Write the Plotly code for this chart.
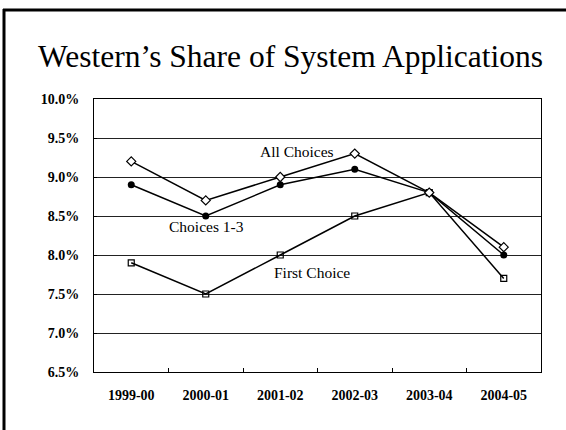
import plotly.graph_objects as go

years = ["1999-00", "2000-01", "2001-02", "2002-03", "2003-04", "2004-05"]
all_choices = [9.2, 8.7, 9.0, 9.3, 8.8, 8.1]
choices_1_3 = [8.9, 8.5, 8.9, 9.1, 8.8, 8.0]
first_choice = [7.9, 7.5, 8.0, 8.5, 8.8, 7.7]
y_ticks = [6.5, 7.0, 7.5, 8.0, 8.5, 9.0, 9.5, 10.0]
y_tick_labels = ["6.5%", "7.0%", "7.5%", "8.0%", "8.5%", "9.0%", "9.5%", "10.0%"]

FONT = "Liberation Serif"

fig = go.Figure()
fig.add_trace(go.Scatter(
    x=years, y=first_choice, mode="lines+markers", name="First Choice",
    line=dict(color="black", width=1.5),
    marker=dict(symbol="square-open", size=6, color="black", line=dict(width=1.2)),
))
fig.add_trace(go.Scatter(
    x=years, y=choices_1_3, mode="lines+markers", name="Choices 1-3",
    line=dict(color="black", width=1.5),
    marker=dict(symbol="circle", size=7, color="black"),
))
fig.add_trace(go.Scatter(
    x=years, y=all_choices, mode="lines+markers", name="All Choices",
    line=dict(color="black", width=1.5),
    marker=dict(symbol="diamond", size=7, color="white", line=dict(color="black", width=1.2)),
))

fig.add_annotation(x=2.22, y=9.33, xref="x", yref="y", text="All Choices",
                   showarrow=False, font=dict(family=FONT, size=15.5, color="black"))
fig.add_annotation(x=1.01, y=8.36, xref="x", yref="y", text="Choices 1-3",
                   showarrow=False, font=dict(family=FONT, size=15.5, color="black"))
fig.add_annotation(x=2.43, y=7.77, xref="x", yref="y", text="First Choice",
                   showarrow=False, font=dict(family=FONT, size=15.5, color="black"))

# outer frame (top and left edges)
px_w, px_h = 447.0, 273.0
fig.add_shape(type="line", xref="paper", yref="paper",
              x0=-91 / px_w, x1=(566 - 94) / px_w, y0=1 + 89 / px_h, y1=1 + 89 / px_h,
              line=dict(color="black", width=3))
fig.add_shape(type="line", xref="paper", yref="paper",
              x0=-90 / px_w, x1=-90 / px_w, y0=1 + 90 / px_h, y1=-60 / px_h,
              line=dict(color="black", width=3))

fig.update_layout(
    width=566, height=430,
    margin=dict(l=94, r=25, t=99, b=58),
    paper_bgcolor="white", plot_bgcolor="white",
    showlegend=False,
    title=dict(text="Western\u2019s Share of System Applications",
               x=290.5 / 566, xanchor="center", xref="container",
               y=1 - 56 / 430, yanchor="middle", yref="container",
               font=dict(family=FONT, size=31.5, color="black")),
    xaxis=dict(
        type="category", range=[-0.5, 5.5],
        tickson="boundaries", ticks="inside", ticklen=4, tickcolor="black",
        showline=True, linecolor="black", linewidth=1, mirror=True,
        showgrid=False, zeroline=False,
        tickfont=dict(family=FONT, size=14, color="black", weight="bold"),
        ticklabelstandoff=10,
    ),
    yaxis=dict(
        range=[6.5, 10.0], tickvals=y_ticks, ticktext=y_tick_labels,
        ticks="inside", ticklen=3, tickcolor="black",
        showline=True, linecolor="black", linewidth=1, mirror=True,
        showgrid=True, gridcolor="#222", gridwidth=1, zeroline=False,
        tickfont=dict(family=FONT, size=14, color="black", weight="bold"),
        ticklabelstandoff=11,
    ),
)

fig.write_html("out.html", config={"displayModeBar": False},
               post_script=("document.body.style.margin='0';"
                            "document.body.style.overflow='hidden';"
                            "document.documentElement.style.overflow='hidden';"))
